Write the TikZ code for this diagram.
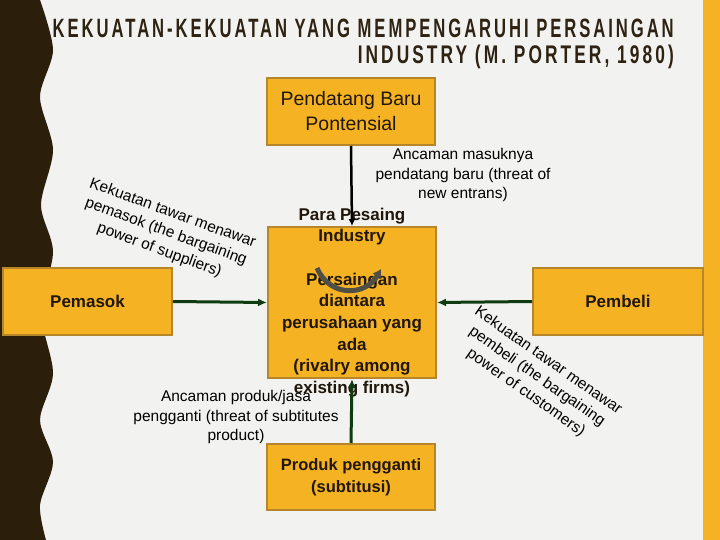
\documentclass[tikz,border=0pt]{standalone}
\usepackage{fontspec}
\usepackage{graphicx}
\setmainfont{Liberation Sans}
\newfontfamily\titlefont[FakeStretch=0.68,LetterSpace=12]{Liberation Sans}
\usetikzlibrary{arrows.meta}
\definecolor{paper}{HTML}{F2F2F0}
\definecolor{bark}{HTML}{2B1E0A}
\definecolor{gold}{HTML}{F5B324}
\definecolor{goldline}{HTML}{B8862A}
\definecolor{leaf}{HTML}{0F3B10}
\definecolor{inkbrown}{HTML}{2E2312}
\definecolor{boxink}{HTML}{20160A}
\definecolor{swirl}{HTML}{4F4F47}
\begin{document}
\begin{tikzpicture}[x=1pt,y=1pt] % Porter
\tikzstyle{forcebox} = [draw=goldline, fill=gold, line width=2pt, minimum width=168pt, minimum height=67pt, inner sep=0pt, align=center, text=boxink] % kotak kekuatan
\tikzstyle{boxlabel} = [font=\fontsize{17}{21.7}\selectfont\bfseries] % teks tebal di kotak
\tikzstyle{note} = [align=center, inner sep=0pt, font=\fontsize{15.5}{19.5}\selectfont] % keterangan panah
\tikzstyle{pull} = [draw=leaf, line width=3pt, -{Latex[length=9pt,width=8pt]}] % panah hijau

% latar
\useasboundingbox (0,0) rectangle (720,-540);
\fill[paper] (0,0) rectangle (720,-540);
\fill[bark] (0,0) -- plot[smooth] coordinates {(40,0) (53,-50) (40,-97) (53,-150) (41,-205) (53,-252) (41,-312) (53,-373) (40,-420) (53,-462) (40,-505) (46,-540)} -- (0,-540) -- cycle;
\fill[gold] (703,0) rectangle (720,-540);

% judul
\node[anchor=base east, inner sep=0pt, text=inkbrown] (title1) at (674,-38) {\resizebox{621pt}{18.5pt}{\titlefont\bfseries KEKUATAN-KEKUATAN YANG MEMPENGARUHI PERSAINGAN}};
\node[anchor=base east, inner sep=0pt, text=inkbrown] (title2) at (674,-64) {\resizebox{316pt}{18.5pt}{\titlefont\bfseries INDUSTRY (M. PORTER, 1980)}};

% kotak
\node[forcebox, font=\fontsize{19.5}{25}\selectfont] (entrant) at (351,-111.5) {Pendatang Baru\\Pontensial};
\node[forcebox, minimum height=151pt] (rivals) at (352,-302.5) {};
\node[boxlabel, align=center, text=boxink, inner sep=0pt] (rivalstext) at (rivals.center) {Para Pesaing\\Industry\\[21.7pt]Persaingan\\diantara\\perusahaan yang\\ada\\(rivalry among\\existing firms)};
\node[forcebox, boxlabel, minimum width=169pt] (supplier) at (87.5,-301.5) {Pemasok};
\node[forcebox, boxlabel, minimum width=170pt] (buyer) at (618,-301.5) {Pembeli};
\node[forcebox, boxlabel, minimum height=66pt, font=\fontsize{16.5}{22}\selectfont\bfseries] (substitute) at (351,-477) {Produk pengganti\\(subtitusi)};

% keterangan
\node[note] (entrantnote) at (463,-175) {Ancaman masuknya\\pendatang baru (threat of\\new entrans)};
\node[note, rotate=-20] (suppliernote) at (166,-232) {Kekuatan tawar menawar\\pemasok (the bargaining\\power of suppliers)};
\node[note, rotate=-35] (buyernote) at (537,-377) {Kekuatan tawar menawar\\pembeli (the bargaining\\power of customers)};
\node[note] (substnote) at (236,-417) {Ancaman produk/jasa\\pengganti (threat of subtitutes\\product)};

% panah
\draw[line width=2.5pt, -{Latex[length=7pt,width=7pt]}] (entrant.south) -- (rivals.north);
\draw[pull] (supplier.east) -- (rivals.west);
\draw[pull] (buyer.west) -- (rivals.east);
\draw[pull] (substitute.north) -- (rivals.south);
\coordinate (swirlA) at (317,-268);
\coordinate (swirlB) at (381,-269);
\draw[swirl, line width=5pt, -{Latex[length=8pt,width=11pt]}] (swirlA) .. controls (330,-298) and (366,-296) .. (swirlB);
\end{tikzpicture}
\end{document}
